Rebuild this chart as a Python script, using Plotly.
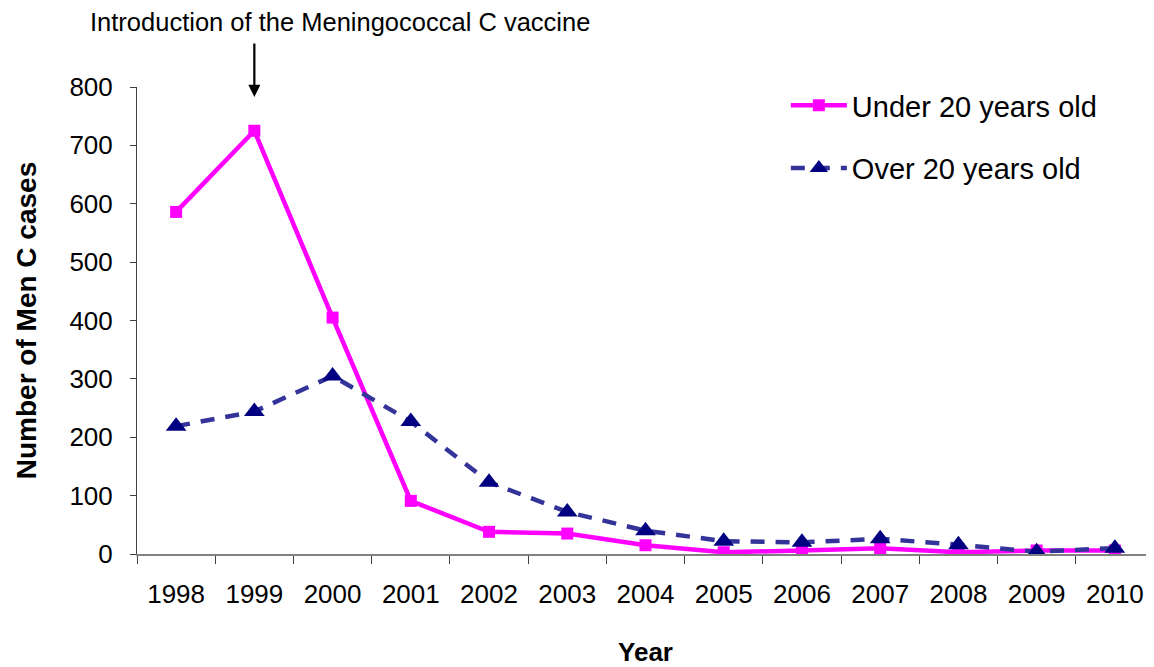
import plotly.graph_objects as go

years = ["1998", "1999", "2000", "2001", "2002", "2003", "2004",
         "2005", "2006", "2007", "2008", "2009", "2010"]
under20 = [586, 725, 405, 91, 38, 35, 15, 3, 6, 10, 3, 6, 6]
over20 = [219, 244, 305, 227, 123, 72, 40, 22, 20, 26, 16, 4, 10]

FONT = "Liberation Sans, Arial, sans-serif"

fig = go.Figure()
fig.add_trace(go.Scatter(
    x=years, y=under20, name="Under 20 years old", mode="lines+markers",
    legendgroup="a",
    line=dict(color="#FF00FF", width=4.5),
    marker=dict(symbol="square", size=12, color="#FF00FF"),
))
fig.add_trace(go.Scatter(
    x=years, y=over20, name="Over 20 years old", mode="lines+markers",
    legendgroup="b",
    line=dict(color="#333399", width=4.5, dash="14px,11px"),
    marker=dict(symbol="triangle-up", size=18, color="#000080"),
))

# page body has an 8px margin, so the figure is sized/positioned accordingly
fig.update_layout(
    width=1146, height=659,
    margin=dict(l=129, r=0, t=79, b=113, autoexpand=False),
    paper_bgcolor="white", plot_bgcolor="white",
    font=dict(family=FONT, color="black", size=26),
    showlegend=True,
    legend=dict(x=0.638, y=1.015, xanchor="left", yanchor="top",
                font=dict(size=29, family=FONT), tracegroupgap=22,
                itemwidth=56,
                bgcolor="rgba(0,0,0,0)"),
    xaxis=dict(
        type="category", range=[-0.5, 12.5], automargin=False,
        showline=True, linecolor="#808080", linewidth=2,
        ticks="outside", tickson="boundaries", ticklen=8, tickcolor="#404040",
        tickfont=dict(size=26), ticklabelstandoff=16,
        showgrid=False, zeroline=False,
        title=dict(text="<b>Year</b>", font=dict(size=26), standoff=47),
    ),
    yaxis=dict(
        range=[0, 800], dtick=100, automargin=False,
        showline=True, linecolor="#404040", linewidth=1,
        ticks="outside", ticklen=6, tickcolor="#404040",
        tickfont=dict(size=26), ticklabelstandoff=12,
        showgrid=False, zeroline=False,
        title=dict(text="<b>Number of Men C cases</b>", font=dict(size=28), standoff=24),
    ),
)

# arrow pointing at 1999 (category index 1)
fig.add_annotation(
    x=1, y=783, xref="x", yref="y",
    ax=0, ay=-55, showarrow=True, arrowhead=2, arrowsize=1.1, arrowwidth=2.2,
    arrowcolor="black", standoff=0, text="",
)
fig.add_annotation(
    x=0.1996, y=1.139, xref="paper", yref="paper", xanchor="center", yanchor="middle",
    text="Introduction of the Meningococcal C vaccine",
    showarrow=False, font=dict(size=25.5, family=FONT),
)

fig.write_html("out.html")
